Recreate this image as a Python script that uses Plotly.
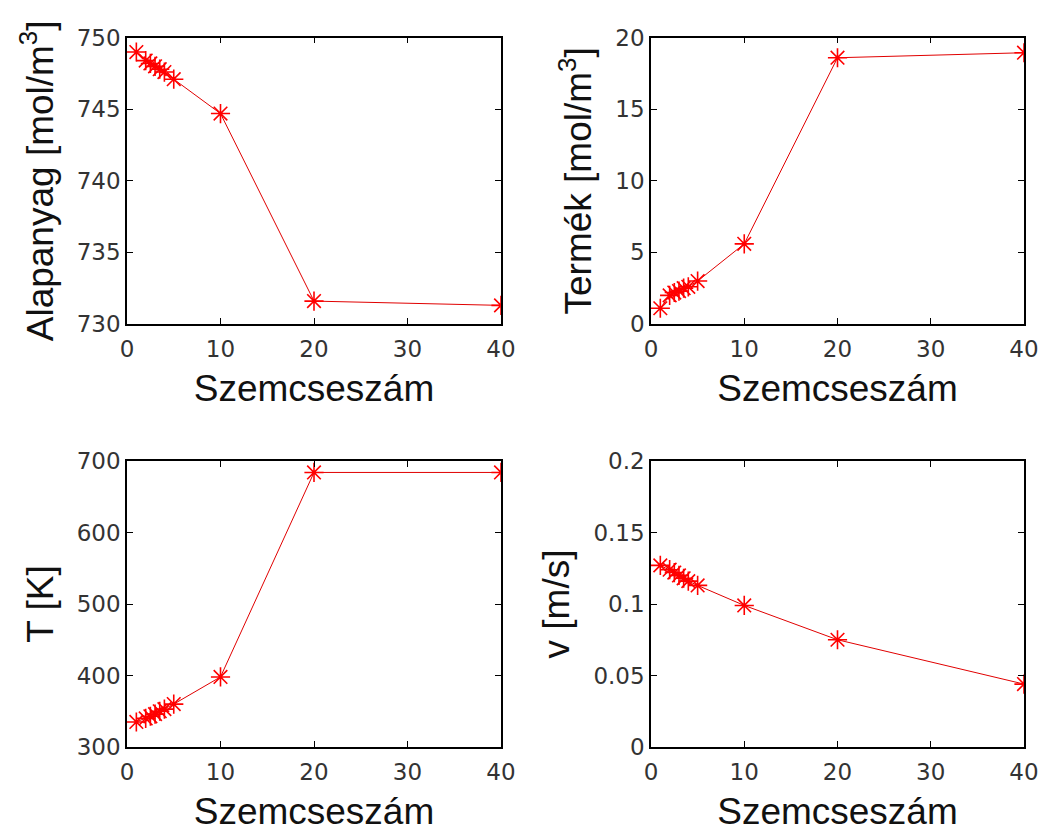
import plotly.graph_objects as go

szemcseszam = [1, 2, 2.5, 3, 3.5, 4, 5, 10, 20, 40]
alapanyag = [749.0, 748.4, 748.2, 748.0, 747.8, 747.6, 747.1, 744.7, 731.6, 731.3]
termek = [1.1, 2.0, 2.2, 2.3, 2.5, 2.6, 3.0, 5.6, 18.6, 18.95]
homerseklet = [335, 340, 343, 346, 350, 353, 360, 398, 684, 684]
sebesseg = [0.127, 0.124, 0.122, 0.120, 0.118, 0.116, 0.113, 0.099, 0.075, 0.044]

x_title = "Szemcseszám"
y_titles = ["Alapanyag [mol/m<sup>3</sup>]", "Termék [mol/m<sup>3</sup>]", "T [K]", "v [m/s]"]
y_ranges = [[730, 750], [0, 20], [300, 700], [0, 0.2]]
y_dticks = [5, 5, 100, 0.05]
x_ticks = [0, 10, 20, 30, 40]

W, H = 1041, 834


def px_x(a, b):
    return [a / W, b / W]


def px_y(top, bottom):
    return [(H - bottom) / H, (H - top) / H]


xdom = [px_x(127, 501), px_x(651, 1024)]
ydom = [px_y(37.7, 324), px_y(461, 747)]

fig = go.Figure()
series = [alapanyag, termek, homerseklet, sebesseg]
tick_font = dict(family="DejaVu Sans", size=23, color="#333")
title_font = dict(family="Liberation Sans, Arial", size=37, color="#111")

for i, ys in enumerate(series):
    n = i + 1
    sfx = "" if n == 1 else str(n)
    fig.add_trace(go.Scatter(
        x=szemcseszam, y=ys, mode="lines+markers",
        line=dict(color="#e00000", width=1),
        marker=dict(symbol="asterisk-open", size=16, color="#ff0000",
                    line=dict(color="#ff0000", width=1.6)),
        xaxis="x" + sfx, yaxis="y" + sfx, showlegend=False,
    ))
    col = i % 2
    row = i // 2
    fig.layout["xaxis" + sfx] = dict(
        domain=xdom[col], anchor="y" + sfx, range=[0, 40], automargin=False,
        tickvals=x_ticks, ticks="inside", ticklen=6, tickcolor="black",
        showline=True, linecolor="black", linewidth=1.5, mirror="ticks",
        showgrid=False, zeroline=False, tickfont=tick_font,
        ticklabeloverflow="allow", ticklabelstandoff=4,
        title=dict(text=x_title, font=title_font, standoff=14),
    )
    fig.layout["yaxis" + sfx] = dict(
        domain=ydom[row], anchor="x" + sfx, range=y_ranges[i], automargin=False,
        dtick=y_dticks[i], tick0=y_ranges[i][0], ticks="inside", ticklen=6,
        tickcolor="black", showline=True, linecolor="black", linewidth=1.5,
        mirror="ticks", showgrid=False, zeroline=False, tickfont=tick_font,
        ticklabeloverflow="allow",
        title=dict(text=y_titles[i], font=title_font, standoff=12),
    )

fig.update_layout(
    width=W, height=H, margin=dict(l=0, r=0, t=0, b=0),
    paper_bgcolor="white", plot_bgcolor="white",
)
fig.write_html(
    "out.html",
    config={"displayModeBar": False},
    post_script="document.documentElement.style.overflow='hidden';"
                "document.body.style.margin='0';document.body.style.overflow='hidden';",
)
